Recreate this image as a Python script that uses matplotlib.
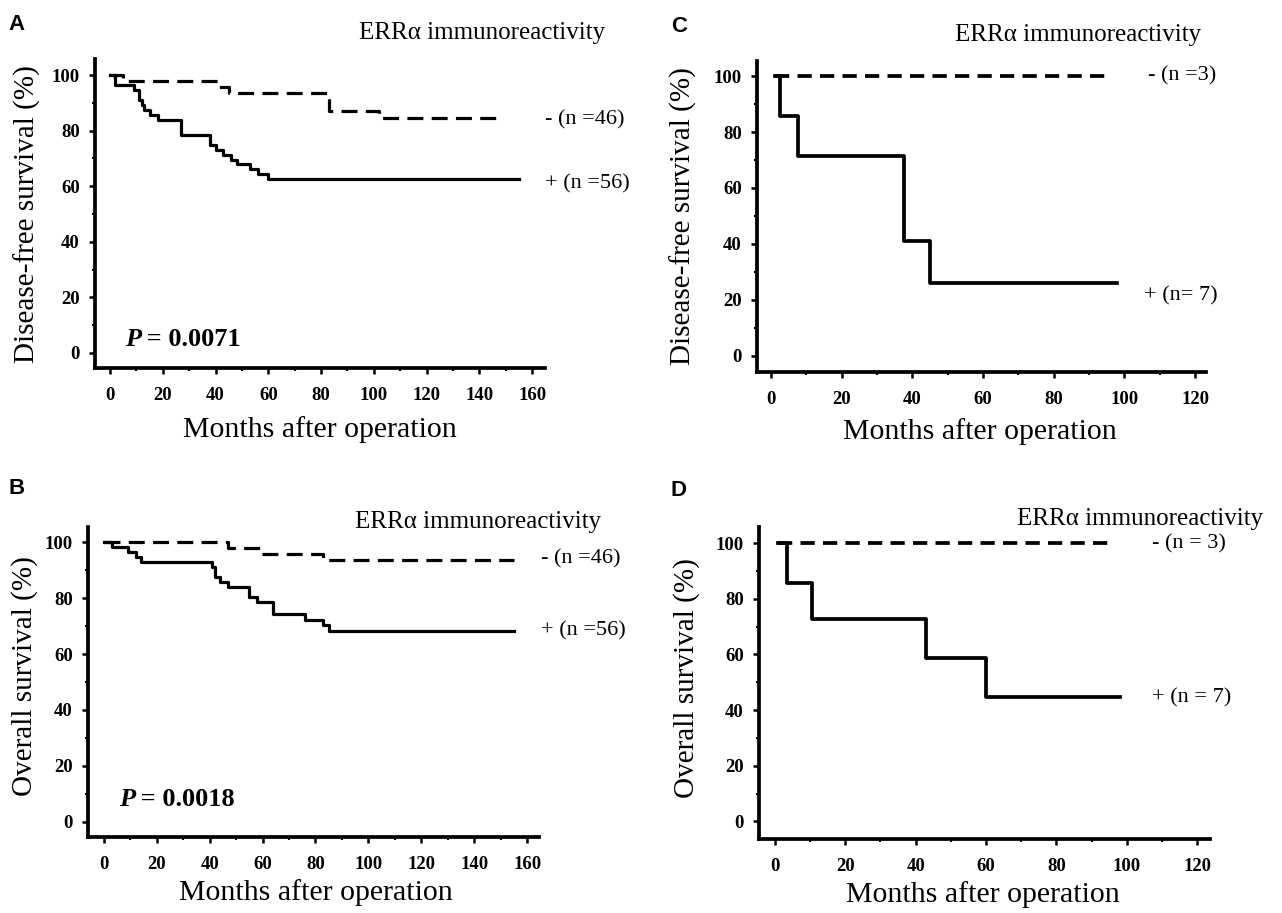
import matplotlib
matplotlib.use("Agg")
import matplotlib.pyplot as plt
from matplotlib.ticker import MultipleLocator

# Curvas de Kaplan-Meier segundo a imunorreatividade ERRα
W, H = 1282, 913

# Painel A - sobrevida livre de doença
a_neg_t = [0, 5, 41, 45, 83, 102, 149]
a_neg_s = [100, 97.8, 95.7, 93.5, 87.0, 84.4, 84.4]
a_pos_t = [0, 2, 9, 11, 12, 13, 15, 18, 27, 38, 40, 43, 46, 48, 53, 56, 60, 155]
a_pos_s = [100, 96.4, 94.6, 91.1, 89.3, 87.5, 85.7, 83.9, 78.6, 75.0, 73.2, 71.4,
           69.6, 67.9, 66.1, 64.3, 62.5, 62.5]

# Painel B - sobrevida global
b_neg_t = [0, 47, 59, 83, 155]
b_neg_s = [100, 97.8, 95.7, 93.5, 93.5]
b_pos_t = [0, 3, 9, 12, 14, 41, 42, 44, 47, 55, 58, 64, 76, 83, 85, 155]
b_pos_s = [100, 98.2, 96.4, 94.6, 92.9, 91.1, 87.5, 85.7, 83.9, 80.4, 78.6, 74.4,
           72.0, 70.5, 68.2, 68.2]

# Painel C - sobrevida livre de doença
c_neg_t = [1, 95]
c_neg_s = [100, 100]
c_pos_t = [1, 2.5, 7.5, 37.5, 45, 98]
c_pos_s = [100, 85.7, 71.4, 41.0, 26.0, 26.0]

# Painel D - sobrevida global
d_neg_t = [1, 95]
d_neg_s = [100, 100]
d_pos_t = [1, 3.5, 10.5, 43, 60, 98]
d_pos_s = [100, 85.7, 72.6, 58.6, 44.8, 44.8]

yticks = [0, 20, 40, 60, 80, 100]
xticks_ab = [0, 20, 40, 60, 80, 100, 120, 140, 160]
xticks_cd = [0, 20, 40, 60, 80, 100, 120]

titulo = "ERRα immunoreactivity"
xlabel = "Months after operation"

SERIF = "Liberation Serif"


def fx(px):
    return px / W


def fy(py):
    return 1 - py / H


def painel(fig, box, xlim, ylim, xticks, neg, pos, dash, lw):
    left, top, right, bottom = box
    ax = fig.add_axes([fx(left), fy(bottom), (right - left) / W, (bottom - top) / H])
    ax.step(neg[0], neg[1], where="post", color="black", lw=lw,
            linestyle=(0, dash), dash_capstyle="butt")
    ax.step(pos[0], pos[1], where="post", color="black", lw=lw)
    ax.set_xlim(*xlim)
    ax.set_ylim(*ylim)
    for s in ["top", "right"]:
        ax.spines[s].set_visible(False)
    for s in ["left", "bottom"]:
        ax.spines[s].set_linewidth(2.7)
    ax.set_xticks(xticks)
    ax.set_yticks(yticks)
    ax.xaxis.set_minor_locator(MultipleLocator(10))
    ax.yaxis.set_minor_locator(MultipleLocator(10))
    ax.tick_params(which="major", direction="out", length=4, width=1.8)
    ax.tick_params(which="minor", direction="out", length=2.5, width=1.5)
    ax.tick_params(axis="x", which="major", pad=10)
    ax.tick_params(axis="y", which="major", pad=7)
    for lab in ax.get_xticklabels() + ax.get_yticklabels():
        lab.set_fontfamily(SERIF)
        lab.set_fontsize(13.5)
        lab.set_fontweight("bold")
    return ax


fig = plt.figure(figsize=(W / 100, H / 100), dpi=100)

# A
painel(fig, (95, 59, 545, 368), (-5.7, 164.9), (-5.4, 105.8), xticks_ab,
       (a_neg_t, a_neg_s), (a_pos_t, a_pos_s), (5, 2.6), 2.3)
# B
painel(fig, (88, 527, 539, 837), (-6.0, 164.5), (-5.4, 105.4), xticks_ab,
       (b_neg_t, b_neg_s), (b_pos_t, b_pos_s), (5, 2.6), 2.3)
# C
painel(fig, (757, 61, 1206, 372), (-4.0, 123.1), (-5.8, 105.4), xticks_cd,
       (c_neg_t, c_neg_s), (c_pos_t, c_pos_s), (3.8, 2.2), 2.7)
# D
painel(fig, (759, 527, 1210, 839), (-4.5, 123.6), (-6.3, 105.8), xticks_cd,
       (d_neg_t, d_neg_s), (d_pos_t, d_pos_s), (3.8, 2.2), 2.7)

# textos
letras = [("A", 8, 25), ("B", 8, 488), ("C", 671, 26), ("D", 671, 490)]
for txt, x, y in letras:
    fig.text(fx(x), fy(y), txt, family="Liberation Sans", weight="bold",
             fontsize=16, ha="left", va="center")

for x, y in [(482, 33), (478, 522), (1078, 35), (1140, 519)]:
    fig.text(fx(x), fy(y), titulo, family=SERIF, fontsize=18, ha="center", va="center")

for x, y in [(320, 430), (316, 893), (980, 432), (983, 895)]:
    fig.text(fx(x), fy(y), xlabel, family=SERIF, fontsize=21.5, ha="center", va="center")

ylabs = [("Disease-free survival (%)", 27, 214), ("Overall survival (%)", 25, 676),
         ("Disease-free survival (%)", 683, 216), ("Overall survival (%)", 687, 678)]
for txt, x, y in ylabs:
    fig.text(fx(x), fy(y), txt, family=SERIF, fontsize=21, rotation=90,
             ha="center", va="center")

grupos = [("- (n =46)", 545, 120), ("+ (n =56)", 545, 184),
          ("- (n =46)", 541, 559), ("+ (n =56)", 541, 631),
          ("- (n =3)", 1148, 76), ("+ (n= 7)", 1144, 296),
          ("- (n = 3)", 1152, 544), ("+ (n = 7)", 1152, 698)]
for txt, x, y in grupos:
    fig.text(fx(x), fy(y), txt, family=SERIF, fontsize=16, ha="left", va="center")

for txt, x, y in [("0.0071", 125, 339), ("0.0018", 119, 799)]:
    fig.text(fx(x), fy(y), "P", family=SERIF, fontsize=19, weight="bold",
             style="italic", ha="left", va="center")
    fig.text(fx(x + 15), fy(y), " = " + txt, family=SERIF, fontsize=19,
             weight="bold", ha="left", va="center")

fig.savefig("out.png", dpi=100, facecolor="white")
